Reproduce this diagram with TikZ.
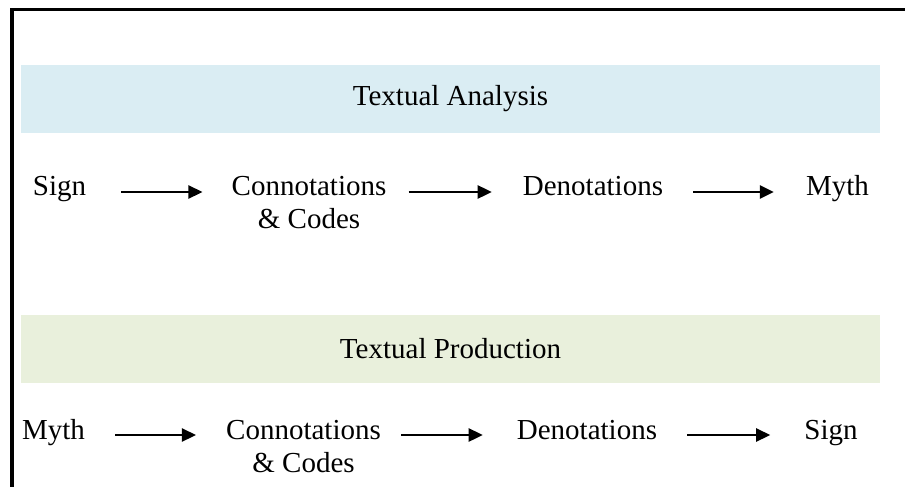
\documentclass[tikz,border=0pt]{standalone}
\usepackage{fontspec}
\setmainfont{Liberation Serif}
\usetikzlibrary{arrows.meta}
\definecolor{bandblue}{HTML}{DAEDF3}
\definecolor{bandgreen}{HTML}{E9F0DC}
\begin{document}
\begin{tikzpicture}[x=1pt,y=-1pt,
  lbl/.style={font=\fontsize{29}{33}\selectfont, inner sep=0pt, anchor=base, align=center},
  band/.style={inner sep=0pt, minimum width=859pt, minimum height=68pt, font=\fontsize{29}{33}\selectfont},
  arr/.style={line width=2.5pt, -{Triangle[length=14pt,width=13pt]}}]
\useasboundingbox (0,0) rectangle (905,487);
\fill[white] (0,0) rectangle (905,487);
\draw[line width=3.5pt, line join=miter] (12,487) -- (12,9.5) -- (905,9.5);
\node[band, fill=bandblue] (ta) at (450.5,99) {Textual Analysis};
\node[band, fill=bandgreen] (tp) at (450.5,349) {Textual Production};
% row 1
\node[lbl] (s1) at (59.5,195) {Sign};
\node[lbl] (c1) at (309,228) {Connotations\\\& Codes};
\node[lbl] (d1) at (593,195) {Denotations};
\node[lbl] (m1) at (837.5,195) {Myth};
\draw[arr, shorten <=35pt, shorten >=29pt] ([yshift=3pt]s1.base east) -- ([yshift=3pt]s1.base east -| c1.west);
\draw[arr, shorten <=22pt, shorten >=31pt] ([yshift=3pt]s1.base east -| c1.east) -- ([yshift=3pt]d1.base west);
\draw[arr, shorten <=30pt, shorten >=32pt] ([yshift=3pt]d1.base east) -- ([yshift=3pt]m1.base west);
% row 2
\node[lbl] (m2) at (53.5,439) {Myth};
\node[lbl] (c2) at (303.5,472) {Connotations\\\& Codes};
\node[lbl] (d2) at (587,439) {Denotations};
\node[lbl] (s2) at (831,439) {Sign};
\draw[arr, shorten <=30pt, shorten >=30pt] ([yshift=4pt]m2.base east) -- ([yshift=4pt]m2.base east -| c2.west);
\draw[arr, shorten <=20pt, shorten >=34pt] ([yshift=4pt]m2.base east -| c2.east) -- ([yshift=4pt]d2.base west);
\draw[arr, shorten <=30pt, shorten >=34pt] ([yshift=4pt]d2.base east) -- ([yshift=4pt]s2.base west);
\end{tikzpicture}
\end{document}
